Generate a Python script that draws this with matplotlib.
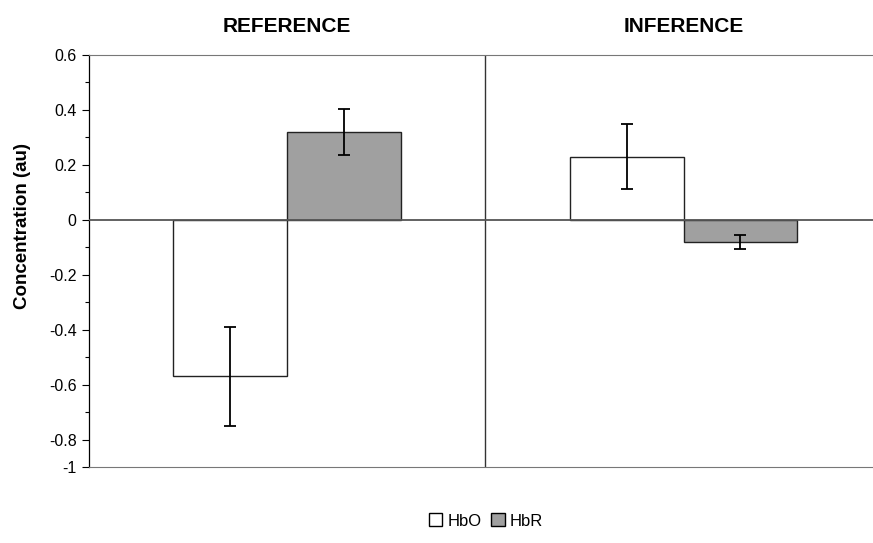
import matplotlib
matplotlib.use("Agg")
import matplotlib.pyplot as plt
from matplotlib.patches import Patch
import numpy as np

groups = ["REFERENCE", "INFERENCE"]
series = ["HbO", "HbR"]
hbo = [-0.57, 0.23]
hbo_err = [0.18, 0.117]
hbr = [0.32, -0.08]
hbr_err = [0.085, 0.025]
tick_vals = [0.6, 0.4, 0.2, 0.0, -0.2, -0.4, -0.6, -0.8, -0.9]
tick_labels = ["0.6", "0.4", "0.2", "0", "-0.2", "-0.4", "-0.6", "-0.8", "-1"]

plt.rcParams['font.family'] = ['Liberation Sans', 'DejaVu Sans']
W, H = 873, 543
fig = plt.figure(figsize=(W / 100, H / 100), dpi=100)
ax = fig.add_axes([89 / W, 1 - 467 / H, 0.908, (467 - 55) / H])

x = np.arange(len(groups))
w = 0.287
ax.bar(x - w/2, hbo, w, color="white", edgecolor="#222222", linewidth=1.0, zorder=2)
ax.bar(x + w/2, hbr, w, color="#a0a0a0", edgecolor="#222222", linewidth=1.0, zorder=2)
ax.errorbar(x - w/2, hbo, yerr=hbo_err, fmt="none", ecolor="black", elinewidth=1.3,
            capsize=4, capthick=1.3, zorder=3)
ax.errorbar(x + w/2, hbr, yerr=hbr_err, fmt="none", ecolor="black", elinewidth=1.3,
            capsize=4, capthick=1.3, zorder=3)

ax.axhline(0, color="#555555", linewidth=1.3, zorder=4)
ax.axvline(0.5, color="#333333", linewidth=1.0, zorder=1)

ax.set_xlim(-0.5, 1.5)
ax.set_ylim(-0.9, 0.6)
ax.set_yticks(tick_vals)
ax.set_yticklabels(tick_labels, fontsize=11.5)
ax.set_yticks(np.arange(-0.9, 0.61, 0.1), minor=True)
ax.tick_params(axis="y", which="major", length=5, width=0.8, pad=4)
ax.tick_params(axis="y", which="minor", length=3, width=0.8)
ax.set_xticks([])

for s in ["top", "bottom"]:
    ax.spines[s].set_linestyle((0, (1, 1)))
    ax.spines[s].set_color("#777777")
    ax.spines[s].set_linewidth(0.8)
ax.spines["right"].set_visible(False)
ax.spines["left"].set_color("black")
ax.spines["left"].set_linewidth(0.9)

fig.text(23 / W, 1 - 226 / H, "Concentration (au)", rotation=90, ha="center", va="center",
         fontsize=13.5, fontweight="bold")

for xi, g in zip(x, groups):
    xf = fig.transFigure.inverted().transform(ax.transData.transform((xi, 0)))[0]
    fig.text(xf, 1 - 27 / H, g, ha="center", va="center", fontsize=15, fontweight="bold")

handles = [Patch(facecolor="white", edgecolor="black", label=series[0]),
           Patch(facecolor="#a0a0a0", edgecolor="black", label=series[1])]
fig.legend(handles=handles, loc="center", bbox_to_anchor=(486 / W, 1 - 521 / H), ncol=2,
           frameon=False, fontsize=12, handlelength=0.8, handleheight=0.8,
           handletextpad=0.3, columnspacing=0.6, borderpad=0.1)

fig.savefig("out.png", dpi=100)
